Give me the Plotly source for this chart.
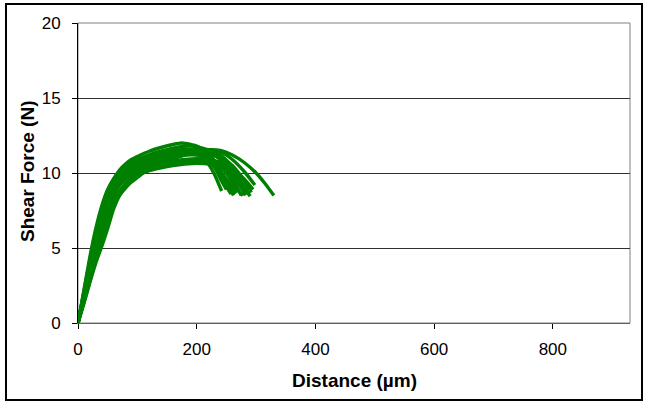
import plotly.graph_objects as go

# ---- data: shear force curves (distance in µm, force in N) ----
c1_x = [0, 10, 20, 30, 40, 50, 60, 70, 80, 90, 100, 120, 140, 160, 180, 200, 210, 220, 230, 242]
c1_y = [0, 2.2, 4.4, 6.3, 7.8, 8.9, 9.6, 10.1, 10.45, 10.7, 10.9, 11.2, 11.4, 11.55, 11.6, 11.4, 11.1, 10.6, 9.9, 8.8]

c2_x = [0, 10, 20, 30, 40, 50, 60, 70, 80, 90, 100, 120, 140, 160, 175, 190, 200, 220, 240, 250, 262]
c2_y = [0, 2.1, 4.2, 6.1, 7.6, 8.8, 9.6, 10.2, 10.6, 10.9, 11.1, 11.45, 11.7, 11.9, 12.0, 11.9, 11.8, 11.3, 10.2, 9.4, 8.5]

c3_x = [0, 10, 20, 30, 40, 50, 60, 70, 80, 90, 100, 120, 140, 160, 180, 200, 220, 240, 260, 275]
c3_y = [0, 2.0, 4.0, 5.8, 7.3, 8.5, 9.3, 9.9, 10.3, 10.6, 10.85, 11.2, 11.45, 11.65, 11.8, 11.75, 11.5, 10.9, 9.7, 8.5]

c4_x = [0, 10, 20, 30, 40, 50, 60, 70, 80, 90, 100, 120, 140, 160, 180, 200, 220, 240, 260, 282]
c4_y = [0, 1.9, 3.8, 5.5, 7.0, 8.2, 9.1, 9.7, 10.1, 10.4, 10.6, 10.95, 11.2, 11.35, 11.45, 11.5, 11.35, 10.9, 10.0, 8.5]

c5_x = [0, 10, 20, 30, 40, 50, 60, 70, 80, 90, 100, 120, 140, 160, 180, 200, 220, 240, 260, 275, 290]
c5_y = [0, 1.8, 3.6, 5.3, 6.8, 8.0, 8.9, 9.5, 9.9, 10.2, 10.4, 10.75, 11.0, 11.15, 11.25, 11.3, 11.25, 11.0, 10.3, 9.4, 8.45]

c6_x = [0, 10, 20, 30, 40, 50, 60, 70, 80, 90, 100, 120, 140, 160, 180, 200, 220, 240, 260, 280, 295]
c6_y = [0, 1.7, 3.4, 5.0, 6.5, 7.7, 8.6, 9.2, 9.6, 9.85, 10.05, 10.4, 10.65, 10.8, 10.9, 10.95, 10.9, 10.7, 10.3, 9.6, 8.9]

c7_x = [0, 10, 20, 30, 40, 50, 60, 70, 80, 90, 100, 120, 140, 160, 180, 200, 220, 240, 260, 280, 298]
c7_y = [0, 1.6, 3.2, 4.8, 6.3, 7.5, 8.5, 9.2, 9.6, 9.9, 10.15, 10.5, 10.8, 11.05, 11.25, 11.4, 11.5, 11.4, 10.9, 10.1, 9.2]

c8_x = [0, 10, 20, 30, 40, 50, 60, 70, 80, 90, 100, 120, 140, 160, 180, 200, 220, 240, 260, 280, 300, 315, 330]
c8_y = [0, 1.5, 3.0, 4.5, 5.9, 7.1, 8.1, 8.8, 9.3, 9.65, 9.95, 10.35, 10.7, 10.95, 11.2, 11.4, 11.55, 11.5, 11.2, 10.7, 10.0, 9.3, 8.5]

c9_x = [0, 10, 20, 30, 40, 50, 60, 70, 80, 90, 100, 110, 120, 140, 160, 180, 200, 220, 235, 250, 265]
c9_y = [0, 1.3, 2.7, 4.0, 5.1, 6.3, 7.6, 8.5, 9.0, 9.4, 9.7, 10.0, 10.15, 10.35, 10.5, 10.6, 10.65, 10.6, 10.3, 9.5, 8.6]

c10_x = [0, 10, 20, 30, 40, 50, 60, 70, 80, 90, 100, 120, 140, 160, 180, 200, 220, 240, 260, 280, 288]
c10_y = [0, 1.4, 2.8, 4.2, 5.5, 6.7, 7.8, 8.6, 9.1, 9.5, 9.8, 10.2, 10.45, 10.65, 10.8, 10.85, 10.8, 10.5, 9.8, 8.9, 8.6]

c11_x = [0, 10, 20, 30, 40, 50, 60, 70, 80, 90, 100, 120, 140, 160, 180, 200, 210, 225, 240, 250]
c11_y = [0, 2.0, 4.1, 5.9, 7.4, 8.6, 9.4, 9.95, 10.3, 10.55, 10.75, 11.05, 11.3, 11.5, 11.6, 11.55, 11.4, 10.8, 9.6, 8.9]

c12_x = [0, 10, 20, 30, 40, 50, 60, 70, 80, 90, 100, 120, 140, 160, 180, 200, 220, 240, 255, 270, 278]
c12_y = [0, 1.6, 3.3, 4.9, 6.4, 7.6, 8.6, 9.3, 9.75, 10.05, 10.3, 10.7, 10.95, 11.1, 11.2, 11.2, 11.0, 10.5, 9.7, 8.8, 8.5]

c13_x = [0, 10, 20, 30, 40, 50, 60, 70, 80, 90, 100, 120, 140, 160, 180, 200, 220, 240, 260, 280, 292]
c13_y = [0, 1.75, 3.5, 5.15, 6.65, 7.85, 8.8, 9.4, 9.8, 10.1, 10.35, 10.8, 11.1, 11.3, 11.4, 11.45, 11.4, 11.1, 10.5, 9.5, 8.7]

c14_x = [0, 10, 20, 30, 40, 50, 60, 70, 80, 90, 100, 120, 140, 160, 180, 200, 215, 230, 245, 258]
c14_y = [0, 1.95, 3.9, 5.65, 7.15, 8.35, 9.2, 9.8, 10.2, 10.5, 10.7, 11.0, 11.25, 11.45, 11.55, 11.45, 11.1, 10.4, 9.4, 8.6]

c15_x = [0, 10, 20, 30, 40, 50, 60, 70, 80, 90, 100, 120, 140, 160, 180, 200, 220, 235, 250, 268]
c15_y = [0, 1.5, 3.0, 4.4, 5.8, 7.0, 8.0, 8.75, 9.25, 9.6, 9.9, 10.3, 10.55, 10.7, 10.8, 10.8, 10.7, 10.3, 9.6, 8.7]

c16_x = [0, 10, 20, 30, 40, 50, 60, 70, 80, 90, 100, 120, 140, 160, 180, 200, 220, 240, 255, 270, 285]
c16_y = [0, 1.85, 3.7, 5.4, 6.9, 8.1, 9.0, 9.6, 10.0, 10.3, 10.5, 10.9, 11.15, 11.35, 11.5, 11.6, 11.55, 11.2, 10.6, 9.7, 8.8]

curves = [(c1_x, c1_y), (c2_x, c2_y), (c3_x, c3_y), (c4_x, c4_y), (c5_x, c5_y), (c6_x, c6_y),
          (c7_x, c7_y), (c8_x, c8_y), (c9_x, c9_y), (c10_x, c10_y), (c11_x, c11_y), (c12_x, c12_y),
          (c13_x, c13_y), (c14_x, c14_y), (c15_x, c15_y), (c16_x, c16_y)]

x_ticks = [0, 200, 400, 600, 800]
y_ticks = [0, 5, 10, 15, 20]

FONT = "Liberation Sans, Arial, sans-serif"
GREEN = "#008000"

fig = go.Figure()
for cx, cy in curves:
    fig.add_trace(go.Scatter(x=cx, y=cy, mode="lines",
                             line=dict(color=GREEN, width=3.4, shape="spline", smoothing=0.6),
                             showlegend=False, hoverinfo="skip"))

W, H = 646, 402
L, R, T, B = 78, 16, 23, 79
pw, ph = W - L - R, H - T - B

fig.update_layout(
    width=W, height=H,
    margin=dict(l=L, r=R, t=T, b=B, pad=0),
    paper_bgcolor="white", plot_bgcolor="white",
    font=dict(family=FONT, size=17, color="black"),
    showlegend=False,
)
fig.update_xaxes(range=[0, 930], tickvals=x_ticks, ticks="outside", ticklen=5,
                 tickcolor="black", showgrid=False, zeroline=False,
                 showline=True, linecolor="#606060", linewidth=1,
                 ticklabelstandoff=6, tickfont=dict(size=17))
fig.update_yaxes(range=[0, 20], tickvals=y_ticks, ticks="outside", ticklen=5,
                 tickcolor="black", showgrid=True, gridcolor="#303030", gridwidth=1,
                 zeroline=False, showline=True, linecolor="black", linewidth=1,
                 ticklabelstandoff=8, tickfont=dict(size=17))

def px_x(p):
    return (p - L) / pw

def px_y(p):
    return (H - B - p) / ph

# plot-area frame (top and right in grey)
fig.add_shape(type="rect", xref="paper", yref="paper", x0=0, x1=1, y0=0, y1=1,
              line=dict(color="#808080", width=1), layer="below")
# outer chart border
fig.add_shape(type="rect", xref="paper", yref="paper",
              x0=px_x(6), x1=px_x(642), y0=px_y(400), y1=px_y(4),
              line=dict(color="black", width=2))

# axis titles
fig.add_annotation(text="<b>Distance (µm)</b>", xref="paper", yref="paper",
                   x=px_x(354), y=px_y(380), showarrow=False,
                   font=dict(family=FONT, size=19, color="black"),
                   xanchor="center", yanchor="middle")
fig.add_annotation(text="<b>Shear Force (N)</b>", xref="paper", yref="paper",
                   x=px_x(27), y=px_y(172), showarrow=False, textangle=-90,
                   font=dict(family=FONT, size=19, color="black"),
                   xanchor="center", yanchor="middle")

fig.write_html("out.html", config={"displayModeBar": False},
               post_script="document.body.style.margin='0';document.body.style.padding='0';")
